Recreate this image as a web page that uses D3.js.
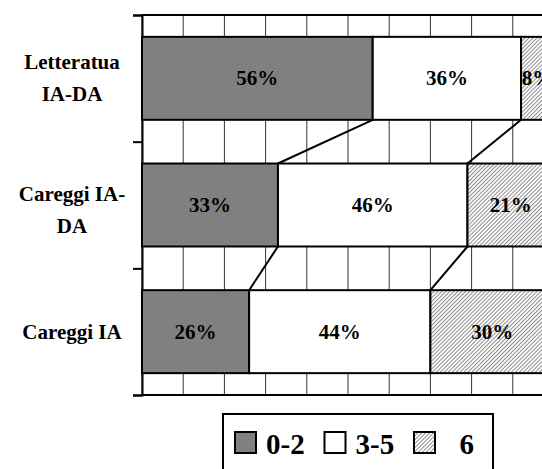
<!DOCTYPE html>
<html>
<head>
<meta charset="utf-8">
<script src="https://cdn.jsdelivr.net/npm/d3@7/dist/d3.min.js"></script>
<style>
  html, body { margin: 0; padding: 0; background: #fff; }
  svg { display: block; }
  text { font-family: "Liberation Serif", "Times New Roman", serif; font-weight: bold; fill: #000; }
</style>
</head>
<body>
<svg id="chart" width="542" height="469"></svg>
<script>
// Categories (top to bottom), each split into its display lines
const categories = ["Letteratua IA-DA", "Careggi IA-DA", "Careggi IA"];
const categoryLines = [["Letteratua", "IA-DA"], ["Careggi IA-", "DA"], ["Careggi IA"]];

// Series: share of patients per score group (%)
const seriesKeys = ["0-2", "3-5", "6"];
const values02 = [56, 33, 26];
const values35 = [36, 46, 44];
const values6 = [8, 21, 30];

// Vertical gridline positions (%)
const xTicks = [0, 10, 20, 30, 40, 50, 60, 70, 80, 90, 100];

// Legend labels
const legendLabels = ["0-2", "3-5", "\u00a0\u00a06"];

const rows = categories.map((c, i) => ({
  category: c,
  "0-2": values02[i],
  "3-5": values35[i],
  "6": values6[i]
}));

const svg = d3.select("#chart");
const plot = { left: 142, right: 554, top: 15, bottom: 395 };

const x = d3.scaleLinear().domain([0, 100]).range([plot.left, plot.right]);
const y = d3.scaleBand()
  .domain(categories)
  .range([plot.top, plot.bottom])
  .paddingInner(0.345)
  .paddingOuter(0.1725);

// Hatch pattern for the "6" series
const defs = svg.append("defs");
const hp = 2.8;
const pat = defs.append("pattern")
  .attr("id", "hatch")
  .attr("patternUnits", "userSpaceOnUse")
  .attr("width", hp)
  .attr("height", hp)
  .attr("patternTransform", "rotate(45)");
pat.append("rect").attr("width", hp).attr("height", hp).attr("fill", "#fff");
pat.append("line")
  .attr("x1", 0.5).attr("y1", 0).attr("x2", 0.5).attr("y2", hp)
  .attr("stroke", "#8c8c8c").attr("stroke-width", 1);

const fills = { "0-2": "#808080", "3-5": "#ffffff", "6": "url(#hatch)" };

// Gridlines
svg.append("g")
  .selectAll("line")
  .data(xTicks)
  .join("line")
  .attr("x1", d => x(d)).attr("x2", d => x(d))
  .attr("y1", plot.top).attr("y2", plot.bottom)
  .attr("stroke", "#333").attr("stroke-width", 1);

// Plot frame: top and bottom lines
svg.append("line")
  .attr("x1", plot.left).attr("x2", plot.right)
  .attr("y1", plot.top).attr("y2", plot.top)
  .attr("stroke", "#000").attr("stroke-width", 2);
svg.append("line")
  .attr("x1", plot.left).attr("x2", plot.right)
  .attr("y1", plot.bottom).attr("y2", plot.bottom)
  .attr("stroke", "#000").attr("stroke-width", 2);

// Left axis with ticks at category boundaries
const yAxis = d3.axisLeft(d3.scaleLinear().domain([0, categories.length]).range([plot.top, plot.bottom]))
  .tickValues(d3.range(categories.length + 1))
  .tickSize(9)
  .tickFormat("");
svg.append("g")
  .attr("transform", `translate(${plot.left},0)`)
  .call(yAxis)
  .call(g => g.selectAll("path, line").attr("stroke", "#000").attr("stroke-width", 2));

// Stacked bars
const stacked = d3.stack().keys(seriesKeys)(rows);

// Series connector lines between consecutive bars
const connectors = [];
stacked.forEach(layer => {
  for (let i = 0; i < rows.length - 1; i++) {
    connectors.push({
      x1: x(layer[i][1]), y1: y(rows[i].category) + y.bandwidth(),
      x2: x(layer[i + 1][1]), y2: y(rows[i + 1].category)
    });
  }
});
svg.append("g")
  .selectAll("line")
  .data(connectors.filter(c => c.x1 < plot.right - 1))
  .join("line")
  .attr("x1", d => d.x1).attr("y1", d => d.y1)
  .attr("x2", d => d.x2).attr("y2", d => d.y2)
  .attr("stroke", "#000").attr("stroke-width", 2);

const layers = svg.append("g")
  .selectAll("g")
  .data(stacked)
  .join("g")
  .attr("fill", d => fills[d.key]);

layers.selectAll("rect")
  .data(d => d)
  .join("rect")
  .attr("x", d => x(d[0]))
  .attr("y", d => y(d.data.category))
  .attr("width", d => x(d[1]) - x(d[0]))
  .attr("height", y.bandwidth())
  .attr("stroke", "#000")
  .attr("stroke-width", 2);

// Value labels
layers.selectAll("text")
  .data(d => d)
  .join("text")
  .attr("x", d => x((d[0] + d[1]) / 2))
  .attr("y", d => y(d.data.category) + y.bandwidth() / 2 + 7)
  .attr("text-anchor", "middle")
  .attr("font-size", 21)
  .text(d => `${d[1] - d[0]}%`);

// Category labels (the wrapped middle label sits a little lower)
const lineH = 31.7;
const labelShift = [0, 5, 0];
svg.append("g")
  .selectAll("text")
  .data(categories)
  .join("text")
  .attr("text-anchor", "middle")
  .attr("font-size", 21)
  .each(function (c, i) {
    const lines = categoryLines[i];
    const cy = y(c) + y.bandwidth() / 2 + 7 - (lines.length - 1) * lineH / 2 + labelShift[i];
    d3.select(this).selectAll("tspan")
      .data(lines)
      .join("tspan")
      .attr("x", 72)
      .attr("y", (d, j) => cy + j * lineH)
      .text(d => d);
  });

// Legend
const legend = svg.append("g");
legend.append("rect")
  .attr("x", 223).attr("y", 414)
  .attr("width", 270).attr("height", 80)
  .attr("fill", "#fff").attr("stroke", "#000").attr("stroke-width", 2);

const items = legend.selectAll("g.item")
  .data(seriesKeys)
  .join("g")
  .attr("class", "item")
  .attr("transform", (d, i) => `translate(${235 + i * 89.5},432)`);
items.append("rect")
  .attr("width", 21).attr("height", 21)
  .attr("fill", d => fills[d])
  .attr("stroke", "#000").attr("stroke-width", 2);
items.append("text")
  .attr("x", 31)
  .attr("y", 22)
  .attr("font-size", 29)
  .style("white-space", "pre")
  .text((d, i) => legendLabels[i]);
</script>
</body>
</html>
